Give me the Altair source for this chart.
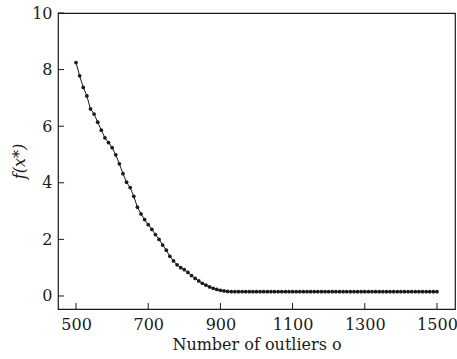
import altair as alt
import pandas as pd

outliers = list(range(500, 1510, 10))
f_head = [8.25, 7.78, 7.37, 7.07, 6.61, 6.43, 6.14, 5.86, 5.59, 5.42,
          5.24, 4.99, 4.67, 4.32, 4.02, 3.83, 3.52, 3.14, 2.90, 2.70,
          2.52, 2.35, 2.17, 2.00, 1.80, 1.62, 1.40, 1.24, 1.10, 1.00,
          0.93, 0.83, 0.72, 0.62, 0.53, 0.45, 0.38, 0.32, 0.27, 0.23,
          0.20, 0.18, 0.16]
f_tail = [0.15, 0.15, 0.15, 0.15, 0.15, 0.15, 0.15, 0.15, 0.15, 0.15,
          0.15, 0.15, 0.15, 0.15, 0.15, 0.15, 0.15, 0.15, 0.15, 0.15,
          0.15, 0.15, 0.15, 0.15, 0.15, 0.15, 0.15, 0.15, 0.15, 0.15,
          0.15, 0.15, 0.15, 0.15, 0.15, 0.15, 0.15, 0.15, 0.15, 0.15,
          0.15, 0.15, 0.15, 0.15, 0.15, 0.15, 0.15, 0.15, 0.15, 0.15,
          0.15, 0.15, 0.15, 0.15, 0.15, 0.15, 0.15, 0.15]
f_values = f_head + f_tail

x_ticks = [500, 700, 900, 1100, 1300, 1500]
y_ticks = [0, 2, 4, 6, 8, 10]

FONT = "'DejaVu Serif', 'Liberation Serif', serif"
INK = "#1a1a1a"

df = pd.DataFrame({"o": outliers, "f": f_values})
xt = pd.DataFrame({"o": x_ticks})
yt = pd.DataFrame({"f": y_ticks})

xscale = alt.Scale(domain=[450, 1550], nice=False, zero=False)
yscale = alt.Scale(domain=[-0.46, 10], nice=False, zero=False)

x_axis = alt.Axis(values=x_ticks, ticks=False, domain=False, grid=False,
                  format="d",
                  labelFont=FONT, labelFontSize=16, labelColor=INK,
                  labelPadding=7, title="Number of outliers o",
                  titleFont=FONT, titleFontSize=16, titleFontWeight="normal",
                  titleColor=INK, titlePadding=4)
y_axis = alt.Axis(values=y_ticks, ticks=False, domain=False, grid=False,
                  format="d",
                  labelFont=FONT, labelFontSize=16, labelColor=INK,
                  labelPadding=6, title="f(x*)",
                  titleFont=FONT, titleFontSize=16, titleFontWeight="normal",
                  titleFontStyle="italic", titleColor=INK, titlePadding=4)

line = alt.Chart(df).mark_line(color=INK, strokeWidth=1).encode(
    x=alt.X("o:Q", scale=xscale, axis=x_axis, title="Number of outliers o"),
    y=alt.Y("f:Q", scale=yscale, axis=y_axis, title="f(x*)"),
)
pts = alt.Chart(df).mark_circle(color=INK, size=14, opacity=1).encode(
    x=alt.X("o:Q", scale=xscale, title="Number of outliers o"),
    y=alt.Y("f:Q", scale=yscale, title="f(x*)"),
)
yticks = alt.Chart(yt).mark_rule(color=INK, strokeWidth=1).encode(
    y=alt.Y("f:Q", scale=yscale, title="f(x*)"),
    x=alt.value(0), x2=alt.value(6),
)
xticks = alt.Chart(xt).mark_rule(color=INK, strokeWidth=1).encode(
    x=alt.X("o:Q", scale=xscale, title="Number of outliers o"),
    y=alt.value(296), y2=alt.value(290),
)

chart = alt.layer(line, pts, yticks, xticks).properties(
    width=397, height=296,
    background="white",
    autosize=alt.AutoSizeParams(type="none"),
    padding={"left": 58, "top": 13, "right": 2, "bottom": 50},
).configure_view(stroke=INK, strokeWidth=1.2)

chart.save("out.html", embed_options={"renderer": "svg", "actions": False})
